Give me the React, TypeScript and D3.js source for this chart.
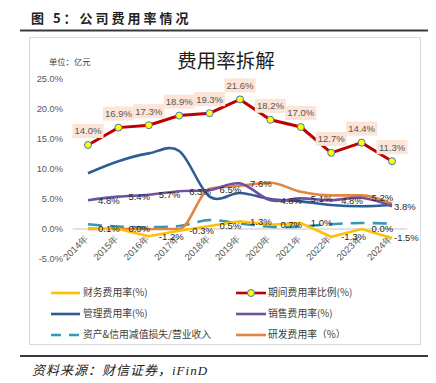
import React from "react";
import * as d3 from "d3";

const years = ["2014年","2015年","2016年","2017年","2018年","2019年","2020年","2021年","2022年","2023年","2024年"];
const yTicks = [-5, 0, 5, 10, 15, 20, 25];
const finance = [0.1, 0.0, -1.2, -0.3, 0.5, 1.3, 0.7, 1.0, -1.3, 0.0, -1.5];
const period = [14.0, 16.9, 17.3, 18.9, 19.3, 21.6, 18.2, 17.0, 12.7, 14.4, 11.3];
const admin = [9.3, 11.3, 12.6, 13.0, 5.4, 6.0, 5.0, 4.6, 4.0, 3.8, 4.0];
const selling = [4.8, 5.4, 5.7, 6.3, 6.5, 7.6, 4.8, 5.1, 4.8, 5.2, 3.8];
const impairment = [0.8, 0.4, 0.3, 0.5, 1.5, 0.9, 0.4, 0.4, 0.8, 1.0, 0.9];
const rnd = [0.0, 0.0, 0.0, 0.0, 6.7, 7.2, 7.7, 6.2, 5.6, 5.6, 4.2];

const C = {
  finance: "#FFC000",
  period: "#C00000",
  admin: "#2E5C96",
  selling: "#7050A0",
  impairment: "#3399B5",
  rnd: "#E3843F",
};

const legendLeft = [
  { name: "财务费用率(%)", color: C.finance, dash: "" },
  { name: "管理费用率(%)", color: C.admin, dash: "" },
  { name: "资产&信用减值损失/营业收入", color: C.impairment, dash: "10,8" },
];
const legendRight = [
  { name: "期间费用率比例(%)", color: C.period, dash: "", marker: true },
  { name: "销售费用率(%)", color: C.selling, dash: "" },
  { name: "研发费用率（%）", color: C.rnd, dash: "" },
];

const NUM = "'Liberation Sans', Arial, sans-serif";
const CJK = "'Noto Sans CJK SC', 'Liberation Sans', sans-serif";

export default function App() {
  const x = d3.scalePoint<string>().domain(years).range([72.8, 407.2]).padding(0.5);
  const y = d3.scaleLinear().domain([-5, 25]).range([259, 79]);
  const xi = (i: number) => x(years[i]) as number;

  const straight = d3.line<number>().x((_, i) => xi(i)).y((d) => y(d));
  const smooth = d3.line<number>().x((_, i) => xi(i)).y((d) => y(d)).curve(d3.curveCatmullRom.alpha(0));
  const mono = d3.line<number>().x((_, i) => xi(i)).y((d) => y(d)).curve(d3.curveMonotoneX);

  const fmt = (v: number) => v.toFixed(1) + "%";
  const last = years.length - 1;

  return (
    <svg width={436} height={383} style={{ position: "absolute", left: 0, top: 0, background: "#fff" }}>
      <text x={31} y={23} fontFamily={CJK} fontWeight={700} fontSize={13} letterSpacing={3} fill="#222">图 5：公司费用率情况</text>
      <line x1={20} x2={428} y1={30.5} y2={30.5} stroke="#3a3a3a" strokeWidth={1.8} />
      <rect x={29.5} y={37.5} width={391} height={307} fill="#fff" stroke="#D9D9D9" strokeWidth={1} />
      <text x={226} y={68} textAnchor="middle" fontFamily={CJK} fontSize={19.5} fill="#1f1f1f">费用率拆解</text>
      <text x={49} y={65} fontFamily={CJK} fontSize={8.3} fill="#404040">单位：亿元</text>

      {yTicks.map((t) => (
        <text key={t} x={63} y={y(t)} dy="0.35em" textAnchor="end" fontFamily={NUM} fontSize={9.3} fill="#595959">
          {t.toFixed(1) + "%"}
        </text>
      ))}
      <line x1={72.8} x2={407.2} y1={y(0)} y2={y(0)} stroke="#D9D9D9" strokeWidth={1.5} />
      {years.map((yr, i) => (
        <text key={yr} transform={`translate(${xi(i) + 1},${y(0) + 10}) rotate(-45)`} textAnchor="end" fontFamily={NUM} fontSize={9.5} fill="#595959">
          {yr}
        </text>
      ))}

      <path d={smooth(impairment) || ""} fill="none" stroke={C.impairment} strokeWidth={2.6} strokeDasharray="14,8" />
      <path d={mono(rnd) || ""} fill="none" stroke={C.rnd} strokeWidth={2.6} />
      <path d={smooth(admin) || ""} fill="none" stroke={C.admin} strokeWidth={2.6} />
      <path d={smooth(selling) || ""} fill="none" stroke={C.selling} strokeWidth={2.6} />
      <path d={straight(finance) || ""} fill="none" stroke={C.finance} strokeWidth={2.6} />
      <path d={straight(period) || ""} fill="none" stroke={C.period} strokeWidth={3} />
      {period.map((v, i) => (
        <circle key={i} cx={xi(i)} cy={y(v)} r={3.5} fill="#FFFF00" stroke="#4472C4" strokeWidth={1} />
      ))}

      {period.map((v, i) => (
        <g key={"pl" + i}>
          <rect x={xi(i) - 15.5} y={y(v) - 21} width={31} height={14} fill="#FCE4D6" />
          <text x={xi(i)} y={y(v) - 14} dy="0.35em" textAnchor="middle" fontFamily={NUM} fontSize={9.5} fill="#595959">{fmt(v)}</text>
        </g>
      ))}
      {selling.map((v, i) => (
        <text key={"sl" + i} x={xi(i) + (i === last ? 2 : 10)} y={y(v)} dy="0.35em" fontFamily={NUM} fontSize={9.5} fill="#262626">{fmt(v)}</text>
      ))}
      {finance.map((v, i) => (
        <text key={"fl" + i} x={xi(i) + (i === last ? 2 : 10)} y={y(v)} dy="0.35em" fontFamily={NUM} fontSize={9.5} fill="#262626">{fmt(v)}</text>
      ))}

      {legendLeft.map((l, k) => (
        <g key={l.name} transform={`translate(0,${293 + k * 21})`}>
          <line x1={51} x2={80} y1={0} y2={0} stroke={l.color} strokeWidth={2.6} strokeDasharray={l.dash || undefined} />
          <text x={83} y={0} dy="0.35em" fontFamily={CJK} fontSize={9.8} fill="#404040">{l.name}</text>
        </g>
      ))}
      {legendRight.map((l, k) => (
        <g key={l.name} transform={`translate(0,${293 + k * 21})`}>
          <line x1={236} x2={266} y1={0} y2={0} stroke={l.color} strokeWidth={2.6} />
          {l.marker ? <circle cx={251} cy={0} r={3.5} fill="#FFFF00" stroke="#4472C4" strokeWidth={1} /> : null}
          <text x={268} y={0} dy="0.35em" fontFamily={CJK} fontSize={9.8} fill="#404040">{l.name}</text>
        </g>
      ))}

      <line x1={20} x2={428} y1={356} y2={356} stroke="#3a3a3a" strokeWidth={1.8} />
      <text x={32} y={375} fontFamily={"'Liberation Serif', 'Noto Sans CJK SC', serif"} fontStyle="italic" fontSize={13} letterSpacing={1} fill="#222">资料来源：财信证券，iFinD</text>
    </svg>
  );
}
